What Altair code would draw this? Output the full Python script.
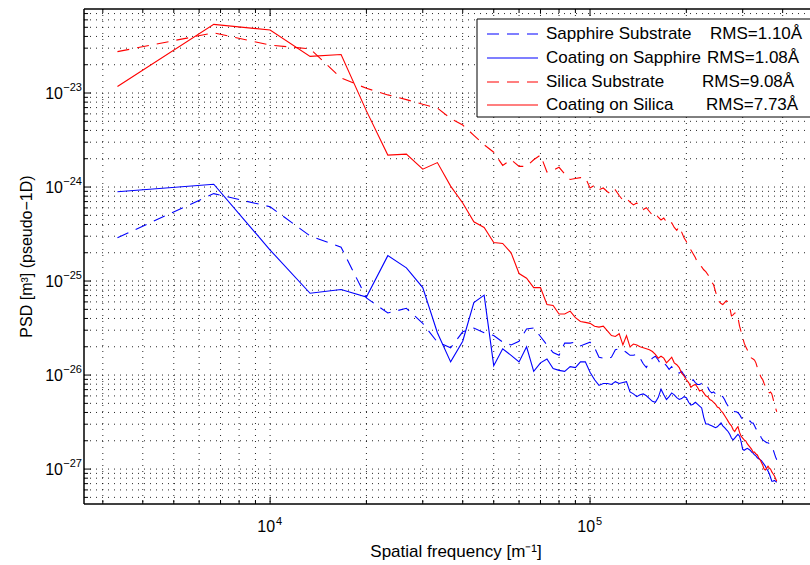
import altair as alt
import pandas as pd

# ---------------- data ----------------
F0 = 10000.0 / 3.0                      # spacing of the spatial-frequency samples [1/m]
harmonic = list(range(1, 116))           # sample index 1..115

series_names = ["Sapphire Substrate", "Coating on Sapphire", "Silica Substrate", "Coating on Silica"]
series_rms = ["RMS=1.10Å", "RMS=1.08Å", "RMS=9.08Å", "RMS=7.73Å"]
series_colors = ["#0000ff", "#0000ff", "#ff0000", "#ff0000"]
series_dashed = [True, False, True, False]

# log10 of PSD values
sapphire_sub_log = [
    -24.54, -24.07, -24.21, -24.52, -24.64, -25.18, -25.34, -25.29, -25.45, -25.65,
    -25.71, -25.54, -25.50, -25.55, -25.58, -25.65, -25.68, -25.64, -25.51, -25.50,
    -25.59, -25.68, -25.76, -25.79, -25.66, -25.66, -25.65, -25.69, -25.67, -25.65,
    -25.71, -25.81, -25.82, -25.83, -25.81, -25.73, -25.72, -25.73, -25.76, -25.79,
    -25.79, -25.78, -25.82, -25.88, -25.92, -25.86, -25.82, -25.80, -25.84, -25.89,
    -25.87, -25.90, -25.94, -25.91, -25.95, -25.97, -25.98, -25.96, -26.00, -26.03,
    -26.06, -26.07, -26.05, -26.08, -26.10, -26.10, -26.09, -26.11, -26.10, -26.13,
    -26.17, -26.19, -26.18, -26.20, -26.19, -26.21, -26.22, -26.23, -26.26, -26.30,
    -26.33, -26.36, -26.37, -26.38, -26.39, -26.39, -26.40, -26.42, -26.45, -26.47,
    -26.48, -26.47, -26.48, -26.49, -26.49, -26.51, -26.51, -26.54, -26.57, -26.59,
    -26.61, -26.64, -26.67, -26.69, -26.70, -26.71, -26.72, -26.72, -26.73, -26.75,
    -26.76, -26.79, -26.83, -26.87, -26.90]

sapphire_coat_log = [
    -24.05, -23.97, -24.67, -25.13, -25.09, -25.17, -24.73, -24.86, -25.07, -25.55,
    -25.86, -25.64, -25.23, -25.15, -25.90, -25.72, -25.79, -25.86, -25.70, -25.96,
    -25.87, -25.83, -25.93, -25.95, -25.96, -25.91, -25.92, -25.86, -25.86, -25.97,
    -26.05, -26.11, -26.09, -26.09, -26.10, -26.07, -26.09, -26.08, -26.07, -26.18,
    -26.20, -26.23, -26.21, -26.20, -26.22, -26.25, -26.28, -26.29, -26.24, -26.15,
    -26.21, -26.26, -26.23, -26.19, -26.21, -26.24, -26.26, -26.25, -26.23, -26.24,
    -26.29, -26.32, -26.31, -26.29, -26.31, -26.33, -26.35, -26.45, -26.52, -26.52,
    -26.53, -26.54, -26.55, -26.56, -26.55, -26.53, -26.51, -26.54, -26.56, -26.58,
    -26.60, -26.63, -26.67, -26.69, -26.67, -26.65, -26.63, -26.65, -26.71, -26.79,
    -26.80, -26.79, -26.78, -26.79, -26.80, -26.82, -26.83, -26.85, -26.86, -26.88,
    -26.89, -26.90, -26.91, -26.93, -26.95, -26.97, -27.00, -27.02, -27.05, -27.09,
    -27.13, -27.13, -27.12, -27.13, -27.14]

silica_sub_log = [
    -22.56, -22.36, -22.49, -22.53, -22.84, -22.95, -23.02, -23.07, -23.12, -23.16,
    -23.27, -23.34, -23.45, -23.55, -23.63, -23.77, -23.71, -23.78, -23.78, -23.71,
    -23.66, -23.84, -23.82, -23.79, -23.86, -23.92, -23.91, -23.90, -23.90, -24.01,
    -23.98, -24.03, -24.01, -24.05, -24.08, -24.03, -24.09, -24.14, -24.12, -24.16,
    -24.19, -24.17, -24.21, -24.24, -24.22, -24.26, -24.30, -24.28, -24.32, -24.35,
    -24.33, -24.37, -24.40, -24.38, -24.43, -24.46, -24.42, -24.48, -24.54, -24.58,
    -24.63, -24.67, -24.71, -24.75, -24.80, -24.83, -24.85, -24.88, -24.90, -24.93,
    -24.96, -25.01, -25.04, -25.11, -25.18, -25.22, -25.24, -25.25, -25.23, -25.21,
    -25.22, -25.28, -25.37, -25.36, -25.34, -25.34, -25.39, -25.48, -25.54, -25.60,
    -25.66, -25.70, -25.73, -25.77, -25.81, -25.82, -25.83, -25.84, -25.87, -25.92,
    -25.97, -26.00, -26.03, -26.05, -26.09, -26.12, -26.16, -26.18, -26.19, -26.18,
    -26.20, -26.25, -26.31, -26.35, -26.39]

silica_coat_log = [
    -22.93, -22.27, -22.33, -22.61, -22.59, -23.19, -23.66, -23.65, -23.81, -23.74,
    -23.99, -24.17, -24.37, -24.43, -24.59, -24.60, -24.70, -24.92, -24.97, -25.07,
    -25.07, -25.25, -25.26, -25.35, -25.35, -25.32, -25.39, -25.43, -25.44, -25.45,
    -25.48, -25.49, -25.48, -25.53, -25.58, -25.59, -25.56, -25.68, -25.58, -25.70,
    -25.67, -25.68, -25.70, -25.71, -25.72, -25.73, -25.75, -25.78, -25.82, -25.80,
    -25.82, -25.87, -25.84, -25.81, -25.87, -25.89, -25.92, -25.98, -26.01, -26.05,
    -26.08, -26.13, -26.11, -26.10, -26.13, -26.17, -26.16, -26.19, -26.22, -26.23,
    -26.26, -26.27, -26.29, -26.31, -26.34, -26.35, -26.38, -26.40, -26.43, -26.46,
    -26.49, -26.52, -26.54, -26.58, -26.60, -26.57, -26.55, -26.61, -26.65, -26.67,
    -26.69, -26.70, -26.73, -26.75, -26.77, -26.79, -26.82, -26.82, -26.84, -26.85,
    -26.88, -26.90, -26.93, -26.96, -27.00, -27.01, -26.99, -26.97, -26.99, -27.00,
    -27.03, -27.05, -27.07, -27.10, -27.13]

series_logs = [sapphire_sub_log, sapphire_coat_log, silica_sub_log, silica_coat_log]

# axis ticks / labels
x_major = [1e4, 1e5]
x_major_exp = ["4", "5"]
x_minor = [3e3, 4e3, 5e3, 6e3, 7e3, 8e3, 9e3,
           2e4, 3e4, 4e4, 5e4, 6e4, 7e4, 8e4, 9e4,
           2e5, 3e5, 4e5]
y_major = [1e-27, 1e-26, 1e-25, 1e-24, 1e-23]
y_major_exp = ["−27", "−26", "−25", "−24", "−23"]
y_minor = ([m * 1e-28 for m in range(5, 10)] + [m * 1e-27 for m in range(2, 10)] +
           [m * 1e-26 for m in range(2, 10)] + [m * 1e-25 for m in range(2, 10)] +
           [m * 1e-24 for m in range(2, 10)] + [m * 1e-23 for m in range(2, 8)])
x_title = "Spatial frequency [m⁻¹]"
y_title = "PSD [m³] (pseudo−1D)"

# ---------------- layout / style ----------------
FONT = "Liberation Sans"
W, H = 726, 495
xscale = alt.Scale(type="log", domain=[2620, 4.87e5], nice=False)
yscale = alt.Scale(type="log", domain=[4.25e-28, 7.83e-23], nice=False)
DASH = [12, 8]
GRID = dict(color="#000000", strokeWidth=1, strokeDash=[1, 5], opacity=0.85)

layers = []

# dotted grid (major + minor)
xg = pd.DataFrame({"v": sorted(x_minor + x_major)})
yg = pd.DataFrame({"v": sorted(y_minor + y_major)})
layers.append(alt.Chart(xg).mark_rule(**GRID).encode(
    x=alt.X("v:Q", scale=xscale, axis=None), y=alt.value(0), y2=alt.value(H)))
layers.append(alt.Chart(yg).mark_rule(**GRID).encode(
    y=alt.Y("v:Q", scale=yscale, axis=None), x=alt.value(0), x2=alt.value(W)))

# curves
for name, logs, col, dashed in zip(series_names, series_logs, series_colors, series_dashed):
    df = pd.DataFrame({
        "f": [k * F0 for k in harmonic],
        "psd": [10.0 ** v for v in logs],
    })
    kw = dict(color=col, strokeWidth=1.1, clip=True)
    if dashed:
        kw["strokeDash"] = DASH
    layers.append(
        alt.Chart(df).mark_line(**kw).encode(
            x=alt.X("f:Q", scale=xscale, axis=None),
            y=alt.Y("psd:Q", scale=yscale, axis=None),
            order="f:Q",
        )
    )

# inward ticks (MATLAB style) on bottom, top and left
for vals, length in [(x_minor, 4), (x_major, 7)]:
    tdf = pd.DataFrame({"v": vals})
    layers.append(alt.Chart(tdf).mark_rule(color="#000000", strokeWidth=1).encode(
        x=alt.X("v:Q", scale=xscale, axis=None), y=alt.value(H), y2=alt.value(H - length)))
    layers.append(alt.Chart(tdf).mark_rule(color="#000000", strokeWidth=1).encode(
        x=alt.X("v:Q", scale=xscale, axis=None), y=alt.value(0), y2=alt.value(length)))
for vals, length in [(y_minor, 4), (y_major, 7)]:
    tdf = pd.DataFrame({"v": vals})
    layers.append(alt.Chart(tdf).mark_rule(color="#000000", strokeWidth=1).encode(
        y=alt.Y("v:Q", scale=yscale, axis=None), x=alt.value(0), x2=alt.value(length)))

one = pd.DataFrame({"k": [0]})
# frame (bottom, left, top)
FRAME = dict(color="#000000", strokeWidth=1.5)
layers.append(alt.Chart(one).mark_rule(**FRAME).encode(x=alt.value(0), x2=alt.value(W), y=alt.value(H)))
layers.append(alt.Chart(one).mark_rule(**FRAME).encode(x=alt.value(0), x2=alt.value(W), y=alt.value(0)))
layers.append(alt.Chart(one).mark_rule(**FRAME).encode(y=alt.value(0), y2=alt.value(H), x=alt.value(0)))

# tick labels: "10" with superscript exponent
xl = pd.DataFrame({"v": x_major, "e": x_major_exp})
layers.append(alt.Chart(xl).mark_text(align="right", baseline="alphabetic", font=FONT, fontSize=16,
                                      color="#000000", dx=5).encode(
    x=alt.X("v:Q", scale=xscale, axis=None), y=alt.value(H + 28), text=alt.value("10")))
layers.append(alt.Chart(xl).mark_text(align="left", baseline="alphabetic", font=FONT, fontSize=11,
                                      color="#000000", dx=6).encode(
    x=alt.X("v:Q", scale=xscale, axis=None), y=alt.value(H + 21), text="e:N"))
yl = pd.DataFrame({"v": y_major, "e": y_major_exp})
layers.append(alt.Chart(yl).mark_text(align="right", baseline="alphabetic", font=FONT, fontSize=16,
                                      color="#000000", dy=6).encode(
    y=alt.Y("v:Q", scale=yscale, axis=None), x=alt.value(-21), text=alt.value("10")))
layers.append(alt.Chart(yl).mark_text(align="right", baseline="alphabetic", font=FONT, fontSize=11,
                                      color="#000000", dy=-2).encode(
    y=alt.Y("v:Q", scale=yscale, axis=None), x=alt.value(-2), text="e:N"))

# axis titles
layers.append(alt.Chart(one).mark_text(align="center", baseline="alphabetic", font=FONT, fontSize=17,
                                       color="#000000").encode(
    x=alt.value(372), y=alt.value(H + 53), text=alt.value(x_title)))
layers.append(alt.Chart(one).mark_text(align="center", baseline="alphabetic", font=FONT, fontSize=16,
                                       color="#000000", angle=270).encode(
    x=alt.value(-52), y=alt.value(247.5), text=alt.value(y_title)))

# legend box
layers.append(alt.Chart(one).mark_rect(fill="white", stroke="#000000", strokeWidth=1).encode(
    x=alt.value(393), x2=alt.value(760), y=alt.value(10), y2=alt.value(108)))
row_y = [25, 49, 73, 96]
rms_x = [626, 623, 618, 622]
for name, rms, col, dashed, ry, rx in zip(series_names, series_rms, series_colors, series_dashed, row_y, rms_x):
    kw = dict(color=col, strokeWidth=1.1)
    if dashed:
        kw["strokeDash"] = DASH
    layers.append(alt.Chart(one).mark_rule(**kw).encode(
        x=alt.value(403), x2=alt.value(454), y=alt.value(ry)))
    layers.append(alt.Chart(one).mark_text(
        align="left", baseline="middle", font=FONT, fontSize=17, color="#000000").encode(
        x=alt.value(462), y=alt.value(ry), text=alt.value(name)))
    layers.append(alt.Chart(one).mark_text(
        align="left", baseline="middle", font=FONT, fontSize=17, color="#000000").encode(
        x=alt.value(rx), y=alt.value(ry), text=alt.value(rms)))

chart = alt.layer(*layers).properties(
    width=W, height=H,
    autosize=alt.AutoSizeParams(type="none"),
    padding={"left": 84, "top": 9, "right": 0, "bottom": 61},
    background="white",
).configure_view(strokeWidth=0)

chart.save("out.html", embed_options={"renderer": "svg", "actions": False})
